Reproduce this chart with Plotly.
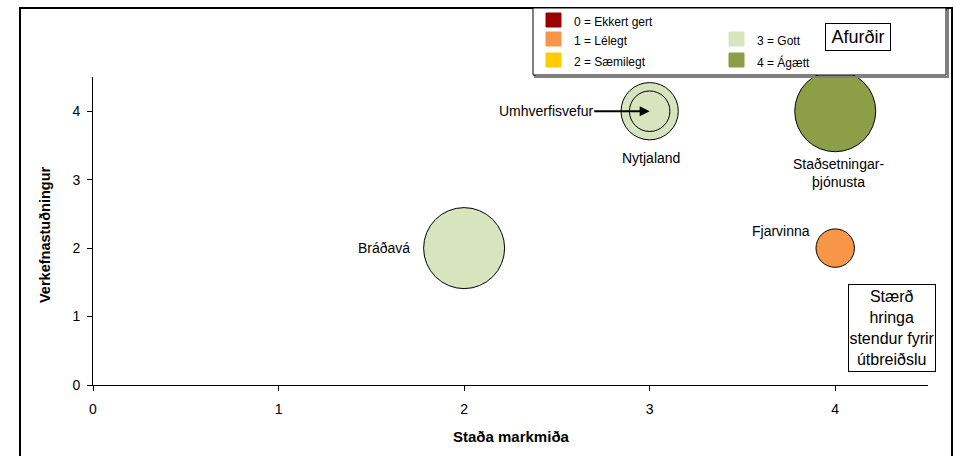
import plotly.graph_objects as go

# ---- data ----
items = ["Bráðavá", "Nytjaland", "Umhverfisvefur", "Staðsetningar-<br>þjónusta", "Fjarvinna"]
stada_markmida = [2, 3, 3, 4, 4]          # x
verkefnastudningur = [2, 4, 4, 4, 2]      # y
utbreidsla = [8, 4, 2, 8, 1.8]            # bubble size (area)
afurdir = [3, 3, 3, 4, 1]                 # status level -> colour

level_labels = ["0 = Ekkert gert", "1 = Lélegt", "2 = Sæmilegt", "3 = Gott", "4 = Ágætt"]
level_colors = ["#990000", "#F79646", "#FFCC00", "#D7E4BD", "#8C9F47"]

x_ticks = [0, 1, 2, 3, 4]
y_ticks = [0, 1, 2, 3, 4]

FONT = "Liberation Sans, Arial, sans-serif"

W, H = 955, 456
L, R, T, B = 93, 27, 77, 71
PW, PH = W - L - R, H - T - B


def px(xp):
    return (xp - L) / PW


def py(yp):
    return (H - B - yp) / PH


fig = go.Figure()
fig.add_trace(go.Scatter(
    x=stada_markmida, y=verkefnastudningur, mode="markers",
    marker=dict(size=utbreidsla, sizemode="area", sizeref=2 * 8 / 81 ** 2,
                color=[level_colors[a] for a in afurdir],
                line=dict(color="black", width=1), opacity=1),
    hovertext=items, showlegend=False, cliponaxis=False,
))

annotations = []
# data labels
label_shift = {
    "Bráðavá": dict(xshift=-80, yshift=0),
    "Nytjaland": dict(xshift=1, yshift=-47),
    "Staðsetningar-<br>þjónusta": dict(xshift=3, yshift=-62),
    "Fjarvinna": dict(xshift=-54, yshift=17),
}
for name, xv, yv in zip(items, stada_markmida, verkefnastudningur):
    if name == "Umhverfisvefur":
        annotations.append(dict(
            x=xv, y=yv, xref="x", yref="y", text=name, showarrow=True,
            ax=-104, ay=0, arrowhead=2, arrowsize=1, arrowwidth=2, arrowcolor="black",
            font=dict(family=FONT, size=14, color="black"), standoff=0))
    else:
        annotations.append(dict(
            x=xv, y=yv, xref="x", yref="y", text=name, showarrow=False,
            xanchor="center", yanchor="middle",
            font=dict(family=FONT, size=14, color="black"), **label_shift[name]))

# axis titles
annotations.append(dict(x=px(511), y=py(436), xref="paper", yref="paper", text="<b>Staða markmiða</b>",
                        showarrow=False, xanchor="center", yanchor="middle",
                        font=dict(family=FONT, size=15, color="black")))
annotations.append(dict(x=px(45), y=py(235), xref="paper", yref="paper", text="<b>Verkefnastuðningur</b>",
                        showarrow=False, textangle=-90, xanchor="center", yanchor="middle",
                        font=dict(family=FONT, size=14.5, color="black")))

shapes = []
# outer chart border
shapes.append(dict(type="rect", xref="paper", yref="paper", x0=px(20), x1=px(952), y0=py(480), y1=py(8),
                   line=dict(color="black", width=2), layer="below"))
# legend box (shadow + box)
shapes.append(dict(type="rect", xref="paper", yref="paper", x0=px(535), x1=px(948), y0=py(77), y1=py(10),
                   line=dict(color="#808080", width=2), layer="above"))
shapes.append(dict(type="rect", xref="paper", yref="paper", x0=px(533), x1=px(946), y0=py(75), y1=py(8),
                   line=dict(color="black", width=1), fillcolor="white", layer="above"))

legend_pos = [(546, 13), (546, 32), (546, 53), (729, 32), (729, 53)]
for lab, col, (lx, ly) in zip(level_labels, level_colors, legend_pos):
    shapes.append(dict(type="rect", xref="paper", yref="paper", x0=px(lx), x1=px(lx + 15),
                       y0=py(ly + 14), y1=py(ly), line=dict(color=col, width=1),
                       fillcolor=col, layer="above"))
    annotations.append(dict(x=px(lx + 26), y=py(ly + 9), xref="paper", yref="paper", text=lab,
                            showarrow=False, xanchor="left", yanchor="middle",
                            font=dict(family=FONT, size=12, color="black")))

# Afurðir title box
annotations.append(dict(x=px(858), y=py(37), xref="paper", yref="paper", text="Afurðir",
                        showarrow=False, xanchor="center", yanchor="middle",
                        width=62, height=24, bordercolor="black", borderwidth=1,
                        borderpad=1, bgcolor="white",
                        font=dict(family=FONT, size=18, color="black")))
# size note box
annotations.append(dict(x=px(891.5), y=py(328), xref="paper", yref="paper",
                        text="Stærð<br>hringa<br>stendur fyrir<br>útbreiðslu",
                        showarrow=False, xanchor="center", yanchor="middle",
                        width=84, height=84, bordercolor="black", borderwidth=1,
                        borderpad=1, bgcolor="white", align="center",
                        font=dict(family=FONT, size=16, color="black")))

axis_common = dict(showgrid=False, zeroline=False, showline=True, linecolor="black", linewidth=1,
                   ticks="outside", ticklen=5, tickcolor="black", tickwidth=1,
                   tickfont=dict(family=FONT, size=14, color="black"), fixedrange=True)

fig.update_layout(
    width=W, height=H,
    margin=dict(l=L, r=R, t=T, b=B, autoexpand=False),
    paper_bgcolor="white", plot_bgcolor="white",
    xaxis=dict(range=[0, 4.5], tickvals=x_ticks, ticklabelstandoff=6, **axis_common),
    yaxis=dict(range=[0, 4.5], tickvals=y_ticks, ticklabelstandoff=4, **axis_common),
    annotations=annotations, shapes=shapes,
    font=dict(family=FONT),
)

fig.write_html("out.html", config={"displayModeBar": False},
               post_script="document.body.style.margin='0';")
